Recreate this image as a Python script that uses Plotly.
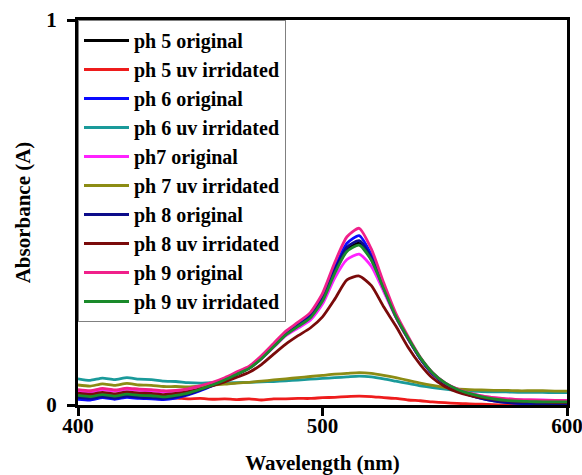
import plotly.graph_objects as go

# Wavelength grid (nm)
wavelength = list(range(400, 601, 5))

ph5_original = [0.026, 0.023, 0.028, 0.024, 0.029, 0.026, 0.024, 0.022, 0.025, 0.031,
                0.041, 0.052, 0.065, 0.080, 0.096, 0.121, 0.152, 0.183, 0.205, 0.228,
                0.273, 0.346, 0.404, 0.420, 0.378, 0.302, 0.229, 0.172, 0.121, 0.082,
                0.056, 0.039, 0.028, 0.020, 0.014, 0.010, 0.008, 0.007, 0.006, 0.005, 0.005]
ph5_uv = [0.030, 0.027, 0.028, 0.024, 0.025, 0.021, 0.020, 0.017, 0.018, 0.016,
          0.017, 0.015, 0.016, 0.014, 0.016, 0.013, 0.016, 0.016, 0.017, 0.017,
          0.019, 0.020, 0.022, 0.023, 0.022, 0.019, 0.017, 0.013, 0.011, 0.008,
          0.006, 0.004, 0.003, 0.002, 0.001, 0.000, 0.000, 0.000, 0.000, 0.000, 0.000]
ph6_original = [0.015, 0.013, 0.019, 0.015, 0.020, 0.017, 0.016, 0.014, 0.018, 0.026,
                0.037, 0.050, 0.064, 0.080, 0.097, 0.123, 0.155, 0.187, 0.210, 0.234,
                0.280, 0.356, 0.420, 0.440, 0.390, 0.308, 0.232, 0.174, 0.121, 0.081,
                0.055, 0.038, 0.026, 0.017, 0.011, 0.007, 0.004, 0.003, 0.002, 0.001, 0.001]
ph6_uv = [0.068, 0.064, 0.070, 0.066, 0.071, 0.067, 0.066, 0.062, 0.061, 0.058,
          0.057, 0.058, 0.057, 0.058, 0.059, 0.060, 0.061, 0.063, 0.065, 0.067,
          0.069, 0.071, 0.073, 0.075, 0.073, 0.068, 0.062, 0.056, 0.050, 0.045,
          0.041, 0.038, 0.036, 0.035, 0.034, 0.034, 0.033, 0.033, 0.033, 0.032, 0.032]
ph7_original = [0.037, 0.034, 0.040, 0.036, 0.041, 0.038, 0.037, 0.034, 0.036, 0.040,
                0.048, 0.057, 0.068, 0.082, 0.096, 0.120, 0.150, 0.180, 0.200, 0.220,
                0.262, 0.330, 0.378, 0.392, 0.360, 0.295, 0.228, 0.172, 0.122, 0.084,
                0.058, 0.042, 0.031, 0.024, 0.019, 0.016, 0.014, 0.013, 0.013, 0.012, 0.012]
ph7_uv = [0.052, 0.049, 0.055, 0.051, 0.056, 0.052, 0.051, 0.048, 0.048, 0.047,
          0.049, 0.052, 0.054, 0.057, 0.059, 0.062, 0.065, 0.068, 0.071, 0.074,
          0.077, 0.080, 0.082, 0.084, 0.082, 0.077, 0.071, 0.064, 0.057, 0.051,
          0.046, 0.042, 0.040, 0.039, 0.038, 0.038, 0.037, 0.037, 0.037, 0.036, 0.036]
ph8_original = [0.020, 0.017, 0.022, 0.018, 0.023, 0.020, 0.019, 0.017, 0.021, 0.028,
                0.039, 0.051, 0.064, 0.080, 0.096, 0.121, 0.153, 0.184, 0.207, 0.230,
                0.276, 0.350, 0.410, 0.427, 0.382, 0.304, 0.230, 0.173, 0.121, 0.081,
                0.055, 0.038, 0.026, 0.017, 0.011, 0.007, 0.005, 0.004, 0.003, 0.002, 0.002]
ph8_uv = [0.031, 0.028, 0.033, 0.029, 0.034, 0.031, 0.030, 0.027, 0.030, 0.035,
          0.042, 0.050, 0.060, 0.072, 0.085, 0.105, 0.132, 0.158, 0.180, 0.200,
          0.229, 0.275, 0.325, 0.335, 0.310, 0.255, 0.205, 0.150, 0.105, 0.070,
          0.048, 0.034, 0.025, 0.019, 0.015, 0.012, 0.010, 0.009, 0.008, 0.007, 0.007]
ph9_original = [0.040, 0.037, 0.043, 0.039, 0.044, 0.041, 0.040, 0.037, 0.038, 0.042,
                0.050, 0.059, 0.071, 0.086, 0.101, 0.128, 0.160, 0.192, 0.215, 0.240,
                0.290, 0.370, 0.437, 0.459, 0.405, 0.318, 0.238, 0.178, 0.124, 0.084,
                0.058, 0.042, 0.031, 0.024, 0.019, 0.016, 0.014, 0.013, 0.012, 0.012, 0.011]
ph9_uv = [0.025, 0.022, 0.027, 0.023, 0.028, 0.025, 0.024, 0.021, 0.025, 0.031,
          0.041, 0.052, 0.065, 0.080, 0.095, 0.120, 0.151, 0.182, 0.204, 0.226,
          0.270, 0.342, 0.399, 0.415, 0.376, 0.302, 0.230, 0.174, 0.123, 0.084,
          0.058, 0.041, 0.030, 0.022, 0.016, 0.012, 0.010, 0.009, 0.008, 0.008, 0.008]

series_names = ["ph 5 original", "ph 5 uv irridated", "ph 6 original", "ph 6 uv irridated",
                "ph7 original", "ph 7 uv irridated", "ph 8 original", "ph 8 uv irridated",
                "ph 9 original", "ph 9 uv irridated"]
series_values = [ph5_original, ph5_uv, ph6_original, ph6_uv, ph7_original, ph7_uv,
                 ph8_original, ph8_uv, ph9_original, ph9_uv]
series_colors = ["#000000", "#ee1c1c", "#0a0aff", "#1a9a9a", "#ff22ff", "#8c8c14",
                 "#0c0c8a", "#7a0a0a", "#f0208a", "#1a8a2a"]

x_ticks = [400, 500, 600]
y_ticks = [0, 1]

FONT = "Liberation Serif, Times New Roman, serif"

fig = go.Figure()
for name, vals, col in zip(series_names, series_values, series_colors):
    fig.add_trace(go.Scatter(x=wavelength, y=vals, name=name, mode="lines",
                             line=dict(color=col, width=2.8, shape="spline", smoothing=0.6)))

axis_common = dict(showgrid=False, zeroline=False, showline=True, linecolor="black",
                   linewidth=3, mirror=True, ticks="outside", ticklen=8, tickwidth=3,
                   tickcolor="black", automargin=False, ticklabeloverflow="allow",
                   tickfont=dict(family=FONT, size=21, color="black", weight="bold"))

fig.update_xaxes(range=[400, 600], tickvals=x_ticks, ticklabelstandoff=-8,
                 title=dict(text="Wavelength (nm)", standoff=37,
                            font=dict(family=FONT, size=21, color="black", weight="bold")),
                 **axis_common)
fig.update_yaxes(range=[0, 1], tickvals=y_ticks, ticklabelstandoff=6,
                 title=dict(text="Absorbance (A)", standoff=10,
                            font=dict(family=FONT, size=21, color="black", weight="bold")),
                 **axis_common)

fig.update_layout(
    width=582, height=475,
    margin=dict(l=78, r=15, t=20, b=70),
    plot_bgcolor="white", paper_bgcolor="white",
    legend=dict(x=0, y=1, xanchor="left", yanchor="top",
                bgcolor="white", bordercolor="#808080", borderwidth=1,
                font=dict(family=FONT, size=20, color="black", weight="bold"),
                itemwidth=45, tracegroupgap=0),
    showlegend=True,
)

fig.write_html("out.html")
